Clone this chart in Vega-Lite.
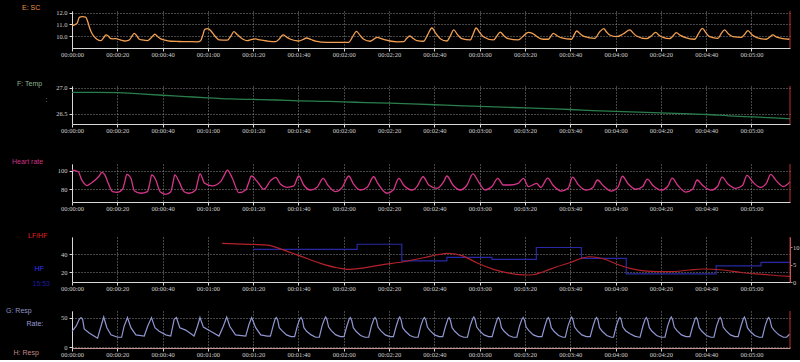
{
"$schema": "https://vega.github.io/schema/vega-lite/v6.json",
"background": "#000000",
"padding": {"left": 6, "top": 3, "right": 2, "bottom": 2},
"bounds": "flush",
"spacing": 0,
"config": {
 "view": {"stroke": null},
 "font": "Liberation Sans",
 "axis": {"labelFont": "Liberation Sans Narrow", "labelFontSize": 6.5, "labelColor": "#d0d0d0", "domainColor": "#d8d8d8", "tickColor": "#d8d8d8", "gridColor": "#b0b0b0", "gridDash": [1,2], "gridWidth": 0.8, "tickSize": 3, "labelPadding": 2, "labelFlush": false, "labelOverlap": false, "titleFont": "Liberation Sans", "titleFontSize": 7, "titleFontWeight": "normal", "titleAngle": 0, "titleAlign": "left", "titleBaseline": "middle"},
 "axisX": {"labelPadding": 0.5},
 "title": {"font": "Liberation Sans", "fontSize": 7, "fontWeight": "normal", "anchor": "start", "baseline": "middle", "frame": "group"}
},
"datasets": {
 "sc": [{"t":0,"v":10.86},{"t":1.5,"v":11.0},{"t":2.3,"v":11.1},{"t":3.2,"v":11.6},{"t":4.5,"v":11.66},{"t":6,"v":11.62},{"t":7,"v":11.2},{"t":7.6,"v":10.8},{"t":8.6,"v":10.3},{"t":9.8,"v":9.94},{"t":11,"v":9.72},{"t":12.8,"v":9.6},{"t":13.8,"v":9.8},{"t":15,"v":10.09},{"t":16,"v":10.0},{"t":17.2,"v":9.77},{"t":18.3,"v":9.76},{"t":19.4,"v":9.78},{"t":21,"v":9.68},{"t":23,"v":9.57},{"t":25.2,"v":9.65},{"t":26.5,"v":10.0},{"t":27.5,"v":10.23},{"t":28.5,"v":10.05},{"t":29.7,"v":9.72},{"t":31,"v":9.66},{"t":33.3,"v":9.6},{"t":35.2,"v":9.9},{"t":36.6,"v":10.15},{"t":37.8,"v":9.95},{"t":39.2,"v":9.75},{"t":41,"v":9.64},{"t":43.6,"v":9.55},{"t":47,"v":9.53},{"t":51,"v":9.52},{"t":55.4,"v":9.5},{"t":56.8,"v":9.6},{"t":57.8,"v":10.1},{"t":58.6,"v":10.57},{"t":60,"v":10.63},{"t":61.3,"v":10.45},{"t":62.7,"v":10.09},{"t":64,"v":9.8},{"t":64.9,"v":9.67},{"t":68.6,"v":9.64},{"t":70,"v":9.95},{"t":71.5,"v":10.37},{"t":72.8,"v":10.15},{"t":74.4,"v":9.88},{"t":76,"v":9.68},{"t":77.4,"v":9.6},{"t":79,"v":9.68},{"t":81,"v":9.75},{"t":83,"v":9.66},{"t":86.1,"v":9.57},{"t":89.9,"v":9.51},{"t":91.5,"v":9.75},{"t":93.2,"v":10.09},{"t":94.8,"v":9.9},{"t":96.5,"v":9.72},{"t":100.1,"v":9.57},{"t":102,"v":9.7},{"t":103.5,"v":9.83},{"t":105.5,"v":9.7},{"t":107.5,"v":9.57},{"t":112.6,"v":9.46},{"t":118,"v":9.46},{"t":122.2,"v":9.46},{"t":123.8,"v":9.9},{"t":125.6,"v":10.4},{"t":127.2,"v":10.05},{"t":128.8,"v":9.72},{"t":131.7,"v":9.55},{"t":134.7,"v":9.89},{"t":136.5,"v":9.78},{"t":138.3,"v":9.66},{"t":143.5,"v":9.5},{"t":146.4,"v":9.51},{"t":147.8,"v":9.8},{"t":149.1,"v":10.0},{"t":150.7,"v":9.78},{"t":152.3,"v":9.6},{"t":155.2,"v":9.55},{"t":157,"v":10.1},{"t":158.9,"v":10.69},{"t":160.7,"v":10.2},{"t":162.6,"v":9.77},{"t":165.5,"v":9.57},{"t":167,"v":10.0},{"t":168.5,"v":10.52},{"t":170.3,"v":10.1},{"t":172.1,"v":9.77},{"t":175.8,"v":9.66},{"t":177.2,"v":10.2},{"t":178.4,"v":10.69},{"t":180,"v":10.3},{"t":181.6,"v":9.94},{"t":186.1,"v":9.66},{"t":187.6,"v":10.0},{"t":189,"v":10.34},{"t":190.8,"v":10.0},{"t":192.6,"v":9.77},{"t":197,"v":9.66},{"t":199.3,"v":10.0},{"t":201.5,"v":10.31},{"t":203,"v":10.25},{"t":204.4,"v":10.09},{"t":206,"v":9.85},{"t":208.1,"v":9.72},{"t":210.3,"v":9.72},{"t":211.5,"v":10.0},{"t":212.5,"v":10.23},{"t":214.3,"v":10.0},{"t":216.2,"v":9.83},{"t":220.6,"v":9.72},{"t":221.7,"v":10.1},{"t":222.8,"v":10.43},{"t":224.6,"v":10.15},{"t":226.4,"v":9.94},{"t":230.8,"v":9.8},{"t":233,"v":10.37},{"t":234.8,"v":10.63},{"t":236,"v":10.35},{"t":237.4,"v":10.09},{"t":240.4,"v":9.94},{"t":243.3,"v":10.17},{"t":246.3,"v":10.52},{"t":247.8,"v":10.25},{"t":249.2,"v":10.0},{"t":253.6,"v":9.77},{"t":255.7,"v":10.0},{"t":257.7,"v":10.31},{"t":259.3,"v":10.05},{"t":260.9,"v":9.89},{"t":263.9,"v":9.77},{"t":265.3,"v":10.0},{"t":266.8,"v":10.29},{"t":268.6,"v":10.05},{"t":270.5,"v":9.89},{"t":274.9,"v":9.72},{"t":276.6,"v":10.2},{"t":278.3,"v":10.66},{"t":280,"v":10.25},{"t":281.5,"v":9.94},{"t":285.2,"v":9.8},{"t":286.6,"v":10.2},{"t":288.1,"v":10.52},{"t":290,"v":10.15},{"t":291.8,"v":9.94},{"t":295.5,"v":9.89},{"t":297,"v":10.15},{"t":298.4,"v":10.46},{"t":300.2,"v":10.1},{"t":302.1,"v":9.89},{"t":306.5,"v":9.72},{"t":308,"v":9.9},{"t":309.4,"v":10.09},{"t":311.2,"v":9.9},{"t":313.1,"v":9.8},{"t":316.8,"v":9.72}],
 "temp": [{"t":0,"v":26.91},{"t":10,"v":26.91},{"t":20,"v":26.905},{"t":30,"v":26.88},{"t":40,"v":26.855},{"t":50,"v":26.83},{"t":60,"v":26.805},{"t":70,"v":26.785},{"t":80,"v":26.775},{"t":90,"v":26.765},{"t":100,"v":26.75},{"t":110,"v":26.74},{"t":120,"v":26.73},{"t":130,"v":26.715},{"t":140,"v":26.705},{"t":150,"v":26.69},{"t":160,"v":26.675},{"t":170,"v":26.66},{"t":180,"v":26.645},{"t":190,"v":26.63},{"t":200,"v":26.615},{"t":210,"v":26.6},{"t":220,"v":26.585},{"t":230,"v":26.565},{"t":240,"v":26.55},{"t":250,"v":26.535},{"t":260,"v":26.52},{"t":270,"v":26.505},{"t":280,"v":26.49},{"t":290,"v":26.465},{"t":300,"v":26.445},{"t":310,"v":26.425},{"t":317,"v":26.41}],
 "hr": [{"t":0,"v":100.5},{"t":1.3,"v":100},{"t":2.8,"v":98.9},{"t":4.3,"v":90},{"t":5.5,"v":86},{"t":6.6,"v":83.9},{"t":8.4,"v":86.4},{"t":10.6,"v":90.7},{"t":12,"v":94.3},{"t":13.2,"v":98.2},{"t":14.5,"v":95.4},{"t":16,"v":86.4},{"t":17.9,"v":77.4},{"t":20.1,"v":76.7},{"t":22.3,"v":80},{"t":23.3,"v":88},{"t":24.2,"v":96.1},{"t":26,"v":91.8},{"t":27.5,"v":78.5},{"t":30.4,"v":75.7},{"t":33.3,"v":77.4},{"t":34.3,"v":86},{"t":35.2,"v":95.4},{"t":37,"v":90},{"t":38.9,"v":77.4},{"t":41.4,"v":74.6},{"t":43.6,"v":77.4},{"t":44.5,"v":86},{"t":45.4,"v":95.4},{"t":47.3,"v":87.9},{"t":49.5,"v":77.4},{"t":51.7,"v":75.7},{"t":54.6,"v":79.2},{"t":55.5,"v":88},{"t":56.5,"v":96.5},{"t":58.6,"v":86.4},{"t":62,"v":83.6},{"t":65.6,"v":88.2},{"t":67.2,"v":95},{"t":68.6,"v":100.7},{"t":70.8,"v":91.8},{"t":73.7,"v":76.3},{"t":76.7,"v":79.2},{"t":78,"v":87},{"t":79.2,"v":94.3},{"t":81.8,"v":88.2},{"t":84.7,"v":80},{"t":87.7,"v":89.3},{"t":89.9,"v":92.9},{"t":92.1,"v":85.4},{"t":95,"v":82.1},{"t":97.9,"v":83.6},{"t":100.1,"v":94.3},{"t":102.3,"v":84.6},{"t":105.3,"v":79.2},{"t":108.2,"v":82.1},{"t":110.9,"v":91.8},{"t":112.9,"v":84.6},{"t":116.3,"v":77.4},{"t":119.3,"v":82.1},{"t":122.2,"v":94.3},{"t":124.1,"v":86.4},{"t":127.3,"v":79.2},{"t":130.3,"v":82.1},{"t":133.2,"v":93.5},{"t":135,"v":86.4},{"t":139.1,"v":75.7},{"t":141.8,"v":79.2},{"t":144.3,"v":91.8},{"t":146.4,"v":84.6},{"t":150.2,"v":79.2},{"t":152.3,"v":82.9},{"t":155,"v":93.5},{"t":157.5,"v":84.6},{"t":161.2,"v":81},{"t":164.1,"v":88.2},{"t":165.5,"v":94.3},{"t":168.2,"v":84.6},{"t":171.4,"v":79.2},{"t":174.4,"v":84.6},{"t":177,"v":96.5},{"t":179.5,"v":87.9},{"t":182.4,"v":79.2},{"t":185.4,"v":82.9},{"t":188,"v":91.8},{"t":190.4,"v":84.6},{"t":193.4,"v":84.6},{"t":197,"v":86.4},{"t":199.3,"v":91.8},{"t":201.5,"v":82.9},{"t":205.1,"v":86.4},{"t":207,"v":82},{"t":210,"v":92},{"t":212.5,"v":84},{"t":216,"v":78},{"t":219,"v":81},{"t":221,"v":93},{"t":223.5,"v":85},{"t":227,"v":79},{"t":230,"v":82},{"t":232,"v":90},{"t":234.5,"v":84},{"t":238,"v":78},{"t":241,"v":82},{"t":243,"v":94},{"t":245.5,"v":86},{"t":249,"v":80},{"t":252,"v":83},{"t":254,"v":91},{"t":256.5,"v":84},{"t":260,"v":79},{"t":263,"v":83},{"t":265,"v":92},{"t":267.5,"v":84},{"t":271,"v":77},{"t":274,"v":80},{"t":276,"v":90},{"t":278.5,"v":84},{"t":282,"v":79},{"t":285,"v":83},{"t":287,"v":93},{"t":289.5,"v":86},{"t":293,"v":81},{"t":296,"v":84},{"t":298,"v":95},{"t":300.5,"v":88},{"t":304,"v":82},{"t":306.5,"v":86},{"t":308.5,"v":96},{"t":311,"v":89},{"t":314,"v":83},{"t":317,"v":88}],
 "hf": [{"t":80,"v":45.1},{"t":125.9,"v":50.9},{"t":145.6,"v":32.4},{"t":165.5,"v":36.4},{"t":185.4,"v":34.2},{"t":205,"v":47.3},{"t":224.9,"v":35.3},{"t":244.7,"v":18.2},{"t":284.4,"v":26.9},{"t":304.2,"v":30.9},{"t":317,"v":30.9}],
 "lfhf": [{"t":66.3,"v":11.15},{"t":75,"v":10.95},{"t":86.2,"v":10.66},{"t":93.5,"v":9.22},{"t":100.9,"v":7.49},{"t":109.7,"v":5.39},{"t":117,"v":4.12},{"t":121.4,"v":3.66},{"t":127.3,"v":3.95},{"t":136.1,"v":4.9},{"t":146.4,"v":5.85},{"t":155.2,"v":7.0},{"t":161.1,"v":7.87},{"t":166.2,"v":8.27},{"t":172.8,"v":7.49},{"t":178.7,"v":5.56},{"t":186.1,"v":3.66},{"t":193.4,"v":2.51},{"t":200.7,"v":2.02},{"t":203.5,"v":2.1},{"t":208.1,"v":2.97},{"t":214,"v":4.41},{"t":219.8,"v":5.56},{"t":225.7,"v":7.0},{"t":228.6,"v":7.29},{"t":234.5,"v":6.71},{"t":240.4,"v":5.19},{"t":246.3,"v":3.95},{"t":253.6,"v":3.17},{"t":263.9,"v":2.97},{"t":272.7,"v":3.46},{"t":278.6,"v":3.75},{"t":287.4,"v":3.46},{"t":296.2,"v":2.68},{"t":305,"v":2.22},{"t":313.8,"v":1.73},{"t":317,"v":1.6}],
 "resp": [{"t":0,"v":27},{"t":1.8,"v":35.5},{"t":3.2,"v":47},{"t":4,"v":50},{"t":4.7,"v":47},{"t":5.4,"v":31},{"t":7.6,"v":24},{"t":10.6,"v":17},{"t":11.3,"v":15.5},{"t":12.8,"v":35.5},{"t":14,"v":51},{"t":15.4,"v":33},{"t":17.2,"v":21},{"t":20.1,"v":17},{"t":21.9,"v":17},{"t":23,"v":35.5},{"t":24.5,"v":50},{"t":26,"v":33},{"t":28.2,"v":21},{"t":31.9,"v":19},{"t":33.4,"v":35.5},{"t":35.1,"v":50},{"t":36.6,"v":33},{"t":38.5,"v":27},{"t":41.4,"v":21},{"t":43.6,"v":19},{"t":45.1,"v":47},{"t":46.1,"v":50},{"t":47.6,"v":33},{"t":50.2,"v":29},{"t":53.9,"v":19},{"t":55.4,"v":35.5},{"t":56.5,"v":50},{"t":58,"v":34},{"t":61.2,"v":27},{"t":64.9,"v":19},{"t":66.8,"v":35.5},{"t":68.3,"v":51},{"t":69.7,"v":35},{"t":72.2,"v":21},{"t":76.7,"v":19},{"t":78.1,"v":38},{"t":79.3,"v":50},{"t":81.1,"v":33},{"t":83.3,"v":21},{"t":86.2,"v":19},{"t":87.6,"v":19},{"t":88.8,"v":36},{"t":89.7,"v":48},{"t":90.2,"v":50},{"t":90.8,"v":46},{"t":91.5,"v":33},{"t":92.7,"v":28},{"t":94.7,"v":21},{"t":96.7,"v":18},{"t":98.3,"v":18},{"t":99.5,"v":36},{"t":100.6,"v":48},{"t":101.1,"v":50},{"t":101.7,"v":46},{"t":102.4,"v":33},{"t":103.6,"v":27},{"t":105.6,"v":21},{"t":107.6,"v":17},{"t":109.2,"v":17},{"t":110.4,"v":36},{"t":111.5,"v":48},{"t":112,"v":51},{"t":112.6,"v":46},{"t":113.3,"v":34},{"t":114.5,"v":28},{"t":116.5,"v":21},{"t":118.5,"v":18},{"t":120.1,"v":18},{"t":121.3,"v":35},{"t":122.4,"v":48},{"t":122.9,"v":50},{"t":123.5,"v":45},{"t":124.2,"v":33},{"t":125.4,"v":27},{"t":127.4,"v":20},{"t":129.4,"v":17},{"t":131,"v":17},{"t":132.2,"v":36},{"t":133.3,"v":48},{"t":133.8,"v":50},{"t":134.4,"v":46},{"t":135.1,"v":34},{"t":136.3,"v":28},{"t":138.3,"v":21},{"t":140.3,"v":18},{"t":141.9,"v":18},{"t":143.1,"v":35},{"t":144.2,"v":48},{"t":144.7,"v":51},{"t":145.3,"v":46},{"t":146,"v":33},{"t":147.2,"v":27},{"t":149.2,"v":20},{"t":151.2,"v":17},{"t":152.8,"v":17},{"t":154,"v":36},{"t":155.1,"v":48},{"t":155.6,"v":50},{"t":156.2,"v":46},{"t":156.9,"v":34},{"t":158.1,"v":28},{"t":160.1,"v":21},{"t":162.1,"v":18},{"t":163.7,"v":18},{"t":164.9,"v":35},{"t":166,"v":48},{"t":166.5,"v":50},{"t":167.1,"v":45},{"t":167.8,"v":33},{"t":169,"v":27},{"t":171,"v":20},{"t":173,"v":17},{"t":174.6,"v":17},{"t":175.8,"v":36},{"t":176.9,"v":48},{"t":177.4,"v":51},{"t":178,"v":46},{"t":178.7,"v":34},{"t":179.9,"v":28},{"t":181.9,"v":21},{"t":183.9,"v":18},{"t":185.5,"v":18},{"t":186.7,"v":35},{"t":187.8,"v":48},{"t":188.3,"v":50},{"t":188.9,"v":46},{"t":189.6,"v":33},{"t":190.8,"v":27},{"t":192.8,"v":20},{"t":194.8,"v":17},{"t":196.4,"v":17},{"t":197.6,"v":36},{"t":198.7,"v":48},{"t":199.2,"v":50},{"t":199.8,"v":46},{"t":200.5,"v":34},{"t":201.7,"v":28},{"t":203.7,"v":21},{"t":205.7,"v":18},{"t":207.5,"v":18},{"t":208.7,"v":35},{"t":209.8,"v":48},{"t":210.3,"v":50},{"t":210.9,"v":45},{"t":211.6,"v":33},{"t":212.8,"v":27},{"t":214.8,"v":20},{"t":216.8,"v":17},{"t":217.8,"v":17},{"t":219,"v":36},{"t":220.1,"v":48},{"t":220.6,"v":51},{"t":221.2,"v":46},{"t":221.9,"v":34},{"t":223.1,"v":28},{"t":225.1,"v":21},{"t":227.1,"v":18},{"t":228.8,"v":18},{"t":230,"v":35},{"t":231.1,"v":48},{"t":231.6,"v":50},{"t":232.2,"v":46},{"t":232.9,"v":33},{"t":234.1,"v":27},{"t":236.1,"v":20},{"t":238.1,"v":17},{"t":239.1,"v":17},{"t":240.3,"v":36},{"t":241.4,"v":48},{"t":241.9,"v":50},{"t":242.5,"v":46},{"t":243.2,"v":34},{"t":244.4,"v":28},{"t":246.4,"v":23},{"t":248.4,"v":19},{"t":250.4,"v":17},{"t":250.8,"v":17},{"t":252,"v":35},{"t":253.1,"v":48},{"t":253.6,"v":50},{"t":254.2,"v":45},{"t":254.9,"v":33},{"t":256.1,"v":27},{"t":258.1,"v":20},{"t":260.1,"v":17},{"t":261.8,"v":17},{"t":263,"v":36},{"t":264.1,"v":48},{"t":264.6,"v":51},{"t":265.2,"v":46},{"t":265.9,"v":34},{"t":267.1,"v":28},{"t":269.1,"v":21},{"t":271.1,"v":18},{"t":272.8,"v":18},{"t":274,"v":35},{"t":275.1,"v":48},{"t":275.6,"v":50},{"t":276.2,"v":46},{"t":276.9,"v":33},{"t":278.1,"v":27},{"t":280.1,"v":20},{"t":282.1,"v":17},{"t":283.4,"v":17},{"t":284.6,"v":36},{"t":285.7,"v":48},{"t":286.2,"v":50},{"t":286.8,"v":46},{"t":287.5,"v":34},{"t":288.7,"v":28},{"t":290.7,"v":21},{"t":292.7,"v":18},{"t":294.1,"v":18},{"t":295.3,"v":35},{"t":296.4,"v":48},{"t":296.9,"v":51},{"t":297.5,"v":45},{"t":298.2,"v":33},{"t":299.4,"v":27},{"t":301.4,"v":20},{"t":303.4,"v":17},{"t":304.8,"v":17},{"t":306,"v":36},{"t":307.1,"v":48},{"t":307.6,"v":50},{"t":308.2,"v":46},{"t":308.9,"v":34},{"t":310.1,"v":28},{"t":312.1,"v":21},{"t":314.1,"v":17},{"t":315.5,"v":17},{"t":316.8,"v":22}],
 "cursor": [{"t":317}]
},
"vconcat": [
 {"width": 718, "height": 37,
  "title": {"text": "E: SC", "color": "#e8944c", "dx": -50, "offset": -1},
  "layer": [
   {"data": {"name": "sc"}, "mark": {"type": "line", "color": "#f3a052", "strokeWidth": 1.3, "interpolate": "monotone"},
    "encoding": {
     "x": {"field": "t", "type": "quantitative", "scale": {"domain": [0, 317], "nice": false, "zero": false},
       "axis": {"title": null, "values": [0,10,20,30,40,50,60,70,80,90,100,110,120,130,140,150,160,170,180,190,200,210,220,230,240,250,260,270,280,290,300,310], "labelExpr": "datum.value % 20 == 0 ? '00:0' + floor(datum.value / 60) + ':' + (datum.value % 60 < 10 ? '0' : '') + (datum.value % 60) : ''", "grid": true, "gridOpacity": {"condition": {"test": "datum.value % 20 == 0", "value": 1}, "value": 0}}},
     "y": {"field": "v", "type": "quantitative", "scale": {"domain": [8.97, 12.15], "nice": false, "zero": false},
       "axis": {"title": null, "values": [10, 11, 12], "format": ".1f", "grid": true}}}},
   {"data": {"name": "cursor"}, "mark": {"type": "rule", "color": "#b8302c", "strokeWidth": 1}, "encoding": {"x": {"field": "t", "type": "quantitative"}}}
  ]},
 {"width": 718, "height": 38, "data": {"values": []}, "mark": "rule", "encoding": {}},
 {"width": 718, "height": 38,
  "title": {"text": "F: Temp", "color": "#8fb08f", "dx": -55, "offset": -2},
  "layer": [
   {"data": {"name": "temp"}, "mark": {"type": "line", "color": "#2a7e4c", "strokeWidth": 1.3, "interpolate": "monotone"},
    "encoding": {
     "x": {"field": "t", "type": "quantitative", "scale": {"domain": [0, 317], "nice": false, "zero": false},
       "axis": {"title": null, "values": [0,10,20,30,40,50,60,70,80,90,100,110,120,130,140,150,160,170,180,190,200,210,220,230,240,250,260,270,280,290,300,310], "labelExpr": "datum.value % 20 == 0 ? '00:0' + floor(datum.value / 60) + ':' + (datum.value % 60 < 10 ? '0' : '') + (datum.value % 60) : ''", "grid": true, "gridOpacity": {"condition": {"test": "datum.value % 20 == 0", "value": 1}, "value": 0}}},
     "y": {"field": "v", "type": "quantitative", "scale": {"domain": [26.31, 27.03], "nice": false, "zero": false},
       "axis": {"title": ":", "titleColor": "#9a9a9a", "titleX": -27, "titleY": 13, "values": [26.5, 27.0], "format": ".1f", "grid": true}}}},
   {"data": {"name": "cursor"}, "mark": {"type": "rule", "color": "#b8302c", "strokeWidth": 1}, "encoding": {"x": {"field": "t", "type": "quantitative"}}}
  ]},
 {"width": 718, "height": 40, "data": {"values": []}, "mark": "rule", "encoding": {}},
 {"width": 718, "height": 38,
  "title": {"text": "Heart rate", "color": "#cc3380", "dx": -60, "offset": -1},
  "layer": [
   {"data": {"name": "hr"}, "mark": {"type": "line", "color": "#d8358a", "strokeWidth": 1.3, "interpolate": "monotone"},
    "encoding": {
     "x": {"field": "t", "type": "quantitative", "scale": {"domain": [0, 317], "nice": false, "zero": false},
       "axis": {"title": null, "values": [0,10,20,30,40,50,60,70,80,90,100,110,120,130,140,150,160,170,180,190,200,210,220,230,240,250,260,270,280,290,300,310], "labelExpr": "datum.value % 20 == 0 ? '00:0' + floor(datum.value / 60) + ':' + (datum.value % 60 < 10 ? '0' : '') + (datum.value % 60) : ''", "grid": true, "gridOpacity": {"condition": {"test": "datum.value % 20 == 0", "value": 1}, "value": 0}}},
     "y": {"field": "v", "type": "quantitative", "scale": {"domain": [66.3, 107.2], "nice": false, "zero": false},
       "axis": {"title": null, "values": [80, 100], "grid": true}}}},
   {"data": {"name": "cursor"}, "mark": {"type": "rule", "color": "#b8302c", "strokeWidth": 1}, "encoding": {"x": {"field": "t", "type": "quantitative"}}}
  ]},
 {"width": 718, "height": 35, "data": {"values": []}, "mark": "rule", "encoding": {}},
 {"width": 718, "height": 45,
  "title": {"text": "LF/HF", "color": "#e02424", "dx": -44, "offset": -2},
  "layer": [
   {"data": {"name": "hf"}, "mark": {"type": "line", "color": "#2828a4", "strokeWidth": 1.2, "interpolate": "step-after"},
    "encoding": {
     "x": {"field": "t", "type": "quantitative", "scale": {"domain": [0, 317], "nice": false, "zero": false},
       "axis": {"title": "15:53", "titleColor": "#1c1ca0", "titleX": -40, "titleY": 1, "values": [0,10,20,30,40,50,60,70,80,90,100,110,120,130,140,150,160,170,180,190,200,210,220,230,240,250,260,270,280,290,300,310], "labelExpr": "datum.value % 20 == 0 ? '00:0' + floor(datum.value / 60) + ':' + (datum.value % 60 < 10 ? '0' : '') + (datum.value % 60) : ''", "grid": true, "gridOpacity": {"condition": {"test": "datum.value % 20 == 0", "value": 1}, "value": 0}}},
     "y": {"field": "v", "type": "quantitative", "scale": {"domain": [9.1, 58.9], "nice": false, "zero": false},
       "axis": {"title": "HF", "titleColor": "#3434ff", "titleX": -38, "titleY": 31, "values": [20, 40], "grid": true}}}},
   {"data": {"name": "lfhf"}, "mark": {"type": "line", "color": "#b3222a", "strokeWidth": 1.2, "interpolate": "monotone"},
    "encoding": {
     "x": {"field": "t", "type": "quantitative"},
     "y": {"field": "v", "type": "quantitative", "scale": {"domain": [0, 13], "nice": false, "zero": false},
       "axis": {"orient": "right", "title": null, "values": [0, 5, 10], "grid": false, "tickSize": 2, "labelPadding": 0.5, "domainColor": "#d07878", "tickColor": "#d07878"}}}},
   {"data": {"name": "cursor"}, "mark": {"type": "rule", "color": "#b8302c", "strokeWidth": 1}, "encoding": {"x": {"field": "t", "type": "quantitative"}}}
  ],
  "resolve": {"scale": {"y": "independent"}}},
 {"width": 718, "height": 29, "data": {"values": []}, "mark": "rule", "encoding": {}},
 {"width": 718, "height": 37,
  "title": {"text": "G: Resp", "color": "#9094c8", "dx": -66, "offset": -3},
  "layer": [
   {"data": {"name": "resp"}, "mark": {"type": "line", "color": "#9096d0", "strokeWidth": 1.2},
    "encoding": {
     "x": {"field": "t", "type": "quantitative", "scale": {"domain": [0, 317], "nice": false, "zero": false},
       "axis": {"title": "H: Resp", "titleColor": "#c08888", "titleX": -59, "titleY": 4, "domainColor": "#c89292", "values": [0,10,20,30,40,50,60,70,80,90,100,110,120,130,140,150,160,170,180,190,200,210,220,230,240,250,260,270,280,290,300,310], "labelExpr": "datum.value % 20 == 0 ? '00:0' + floor(datum.value / 60) + ':' + (datum.value % 60 < 10 ? '0' : '') + (datum.value % 60) : ''", "grid": true, "gridOpacity": {"condition": {"test": "datum.value % 20 == 0", "value": 1}, "value": 0}}},
     "y": {"field": "v", "type": "quantitative", "scale": {"domain": [-1, 61], "nice": false, "zero": false},
       "axis": {"title": "Rate:", "titleColor": "#9a9cd8", "titleX": -46, "titleY": 12, "values": [0, 50], "grid": true}}}},
   {"data": {"name": "cursor"}, "mark": {"type": "rule", "color": "#b8302c", "strokeWidth": 1}, "encoding": {"x": {"field": "t", "type": "quantitative"}}}
  ]}
]
}
